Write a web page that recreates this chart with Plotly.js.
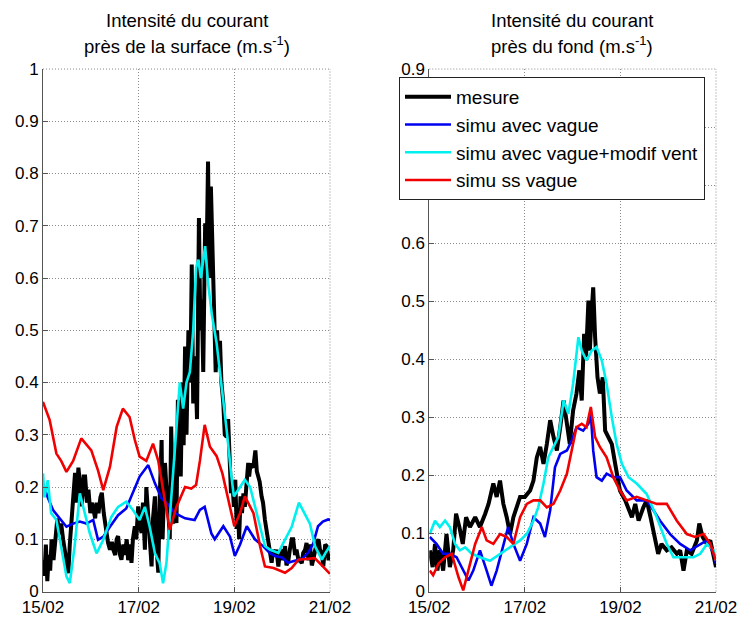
<!DOCTYPE html>
<html>
<head>
<meta charset="utf-8">
<script src="https://cdn.plot.ly/plotly-3.0.1.min.js"></script>
<style>html,body{margin:0;padding:0;background:#fff;}#chart{width:738px;height:622px;}</style>
</head>
<body>
<div id="chart"></div>
<script>
// x values are days after 15/02
const xTickVals = [0, 2, 4, 6];
const xTickText = ['15/02', '17/02', '19/02', '21/02'];
const seriesNames = ['mesure', 'simu avec vague', 'simu avec vague+modif vent', 'simu ss vague'];

// ---- Surface (left panel) ----
const surfMesureT = [0.00,0.03,0.06,0.09,0.12,0.15,0.18,0.22,0.26,0.30,0.34,0.38,0.42,0.46,0.50,0.53,0.56,0.60,0.64,0.67,0.70,0.74,0.78,0.81,0.85,0.88,0.92,0.95,0.99,1.02,1.05,1.09,1.12,1.16,1.20,1.23,1.27,1.30,1.33,1.36,1.40,1.44,1.47,1.51,1.54,1.57,1.61,1.64,1.68,1.71,1.75,1.78,1.82,1.85,1.88,1.92,1.95,1.99,2.02,2.06,2.09,2.13,2.16,2.20,2.23,2.27,2.30,2.34,2.37,2.41,2.44,2.48,2.50,2.55,2.58,2.62,2.65,2.68,2.72,2.75,2.79,2.82,2.86,2.88,2.91,2.94,2.97,3.00,3.04,3.08,3.11,3.14,3.18,3.22,3.26,3.29,3.32,3.35,3.39,3.42,3.45,3.48,3.51,3.55,3.58,3.61,3.64,3.67,3.70,3.73,3.77,3.80,3.84,3.87,3.90,3.93,3.96,3.99,4.02,4.05,4.08,4.10,4.13,4.16,4.19,4.22,4.25,4.29,4.31,4.34,4.37,4.40,4.44,4.47,4.50,4.53,4.57,4.60,4.64,4.67,4.71,4.74,4.78,4.81,4.85,4.88,4.92,4.95,4.99,5.02,5.06,5.09,5.13,5.16,5.20,5.23,5.27,5.30,5.34,5.37,5.41,5.44,5.48,5.51,5.55,5.58,5.62,5.65,5.69,5.72,5.76,5.79,5.83,5.86,5.90,5.93,5.97,6.00];
const surfMesureV = [0.06,0.03,0.09,0.02,0.07,0.04,0.10,0.06,0.10,0.14,0.11,0.13,0.10,0.08,0.05,0.035,0.09,0.15,0.20,0.227,0.17,0.237,0.20,0.163,0.22,0.22,0.17,0.195,0.15,0.17,0.16,0.14,0.17,0.15,0.18,0.189,0.15,0.131,0.10,0.093,0.08,0.095,0.08,0.07,0.10,0.106,0.07,0.061,0.09,0.07,0.10,0.06,0.09,0.055,0.10,0.125,0.10,0.163,0.13,0.112,0.17,0.08,0.20,0.138,0.10,0.048,0.14,0.182,0.09,0.036,0.18,0.29,0.10,0.246,0.20,0.157,0.10,0.316,0.13,0.25,0.131,0.367,0.30,0.22,0.40,0.28,0.469,0.30,0.50,0.40,0.626,0.36,0.45,0.33,0.715,0.50,0.559,0.42,0.705,0.635,0.823,0.60,0.775,0.59,0.527,0.42,0.50,0.43,0.48,0.40,0.36,0.30,0.296,0.33,0.25,0.188,0.21,0.162,0.214,0.12,0.15,0.10,0.182,0.15,0.188,0.162,0.20,0.246,0.22,0.245,0.239,0.24,0.27,0.23,0.22,0.21,0.182,0.17,0.137,0.12,0.093,0.08,0.055,0.08,0.068,0.08,0.048,0.074,0.08,0.06,0.087,0.05,0.06,0.08,0.10,0.10,0.07,0.08,0.06,0.061,0.054,0.074,0.08,0.093,0.06,0.09,0.05,0.061,0.08,0.092,0.10,0.08,0.074,0.048,0.09,0.087,0.06,0.073,0.074,0.086];

const surfVagueT = [0.00,0.10,0.21,0.35,0.49,0.63,0.77,0.91,1.05,1.15,1.26,1.40,1.57,1.74,1.88,2.02,2.20,2.34,2.48,2.62,2.76,2.97,3.17,3.28,3.38,3.52,3.59,3.77,3.91,4.01,4.12,4.26,4.43,4.61,4.75,4.85,5.00,5.12,5.30,5.40,5.55,5.65,5.75,5.85,5.96,6.00];
const surfVagueV = [0.207,0.18,0.156,0.14,0.124,0.13,0.134,0.13,0.137,0.099,0.105,0.124,0.146,0.159,0.188,0.22,0.242,0.207,0.178,0.166,0.15,0.14,0.137,0.156,0.162,0.111,0.10,0.125,0.105,0.068,0.09,0.125,0.10,0.086,0.073,0.068,0.065,0.055,0.06,0.061,0.075,0.092,0.125,0.134,0.138,0.137];

const surfVentT = [0.00,0.03,0.10,0.17,0.28,0.38,0.49,0.56,0.66,0.77,0.87,0.98,1.12,1.26,1.43,1.57,1.74,1.88,2.02,2.13,2.23,2.34,2.44,2.51,2.58,2.69,2.79,2.86,2.93,3.00,3.07,3.14,3.20,3.25,3.30,3.35,3.39,3.45,3.53,3.63,3.73,3.84,3.94,3.99,4.12,4.22,4.33,4.47,4.64,4.75,4.92,5.02,5.20,5.35,5.47,5.58,5.69,5.83,5.90,6.00];
const surfVentV = [0.226,0.18,0.213,0.15,0.137,0.086,0.029,0.016,0.086,0.188,0.15,0.111,0.073,0.099,0.143,0.162,0.172,0.156,0.137,0.162,0.124,0.073,0.054,0.016,0.054,0.188,0.309,0.40,0.35,0.40,0.42,0.50,0.62,0.635,0.60,0.64,0.661,0.591,0.53,0.475,0.40,0.309,0.22,0.182,0.20,0.214,0.20,0.15,0.087,0.08,0.074,0.092,0.124,0.17,0.15,0.13,0.086,0.061,0.073,0.087];

const surfSsT = [0.00,0.14,0.28,0.38,0.49,0.63,0.80,1.01,1.15,1.26,1.40,1.54,1.67,1.81,1.92,2.02,2.16,2.30,2.41,2.55,2.65,2.79,2.97,3.10,3.20,3.28,3.38,3.49,3.63,3.75,3.91,4.00,4.12,4.22,4.40,4.54,4.64,4.82,5.06,5.20,5.34,5.50,5.68,5.82,5.97,6.00];
const surfSsV = [0.363,0.328,0.264,0.25,0.229,0.25,0.293,0.27,0.232,0.194,0.239,0.315,0.35,0.334,0.29,0.258,0.25,0.283,0.25,0.169,0.118,0.162,0.20,0.197,0.204,0.25,0.319,0.277,0.259,0.226,0.162,0.125,0.15,0.182,0.15,0.086,0.048,0.045,0.036,0.045,0.061,0.062,0.064,0.051,0.036,0.034];

// ---- Fond (right panel) ----
const fondMesureT = [0.01,0.07,0.12,0.17,0.22,0.29,0.36,0.43,0.50,0.56,0.63,0.70,0.77,0.85,0.96,1.06,1.17,1.24,1.34,1.41,1.48,1.55,1.62,1.69,1.76,1.83,1.90,2.00,2.11,2.18,2.25,2.32,2.39,2.46,2.53,2.60,2.67,2.74,2.81,2.88,2.94,3.01,3.08,3.14,3.19,3.24,3.28,3.33,3.36,3.40,3.43,3.47,3.52,3.57,3.63,3.68,3.75,3.82,3.89,3.99,4.10,4.17,4.24,4.31,4.38,4.48,4.55,4.63,4.72,4.79,4.86,4.97,5.07,5.18,5.25,5.32,5.39,5.49,5.60,5.65,5.72,5.81,5.88,5.95,6.00];
const fondMesureV = [0.071,0.042,0.082,0.036,0.071,0.036,0.099,0.042,0.071,0.134,0.111,0.082,0.128,0.111,0.128,0.111,0.134,0.151,0.186,0.163,0.191,0.151,0.128,0.099,0.128,0.145,0.163,0.163,0.174,0.191,0.231,0.249,0.22,0.254,0.295,0.266,0.243,0.283,0.329,0.289,0.254,0.312,0.341,0.381,0.329,0.444,0.404,0.501,0.415,0.484,0.524,0.438,0.369,0.341,0.369,0.277,0.266,0.254,0.22,0.174,0.157,0.14,0.128,0.151,0.122,0.145,0.157,0.128,0.094,0.065,0.082,0.071,0.076,0.065,0.071,0.036,0.071,0.065,0.088,0.117,0.094,0.082,0.088,0.065,0.042];

const fondVagueT = [0.01,0.15,0.29,0.43,0.57,0.71,0.82,0.92,1.06,1.20,1.30,1.41,1.55,1.65,1.76,1.90,2.04,2.18,2.32,2.42,2.53,2.63,2.74,2.88,2.98,3.08,3.22,3.33,3.38,3.43,3.50,3.61,3.71,3.85,3.99,4.13,4.34,4.55,4.69,4.83,5.04,5.25,5.46,5.67,5.81,5.95,6.00];
const fondVagueV = [0.094,0.082,0.065,0.065,0.059,0.036,0.019,0.036,0.071,0.036,0.010,0.036,0.082,0.111,0.082,0.053,0.082,0.128,0.117,0.094,0.14,0.214,0.237,0.243,0.26,0.283,0.277,0.289,0.306,0.243,0.197,0.191,0.203,0.197,0.197,0.174,0.157,0.157,0.14,0.122,0.099,0.082,0.071,0.082,0.088,0.065,0.048];

const fondVentT = [0.01,0.12,0.22,0.33,0.43,0.54,0.64,0.75,0.89,1.06,1.27,1.48,1.69,1.90,2.04,2.18,2.28,2.39,2.49,2.60,2.70,2.81,2.91,3.01,3.12,3.19,3.29,3.40,3.50,3.61,3.71,3.82,3.92,4.03,4.17,4.34,4.55,4.76,4.97,5.11,5.32,5.53,5.67,5.81,5.95,6.00];
const fondVentV = [0.099,0.122,0.111,0.122,0.111,0.082,0.071,0.076,0.065,0.059,0.053,0.065,0.076,0.088,0.099,0.122,0.145,0.186,0.231,0.249,0.266,0.329,0.306,0.358,0.438,0.415,0.398,0.415,0.421,0.398,0.358,0.30,0.254,0.22,0.197,0.186,0.168,0.128,0.082,0.059,0.059,0.059,0.065,0.082,0.071,0.053];

const fondSsT = [0.01,0.08,0.19,0.33,0.47,0.61,0.71,0.82,0.96,1.10,1.20,1.34,1.48,1.62,1.76,1.90,2.04,2.18,2.32,2.46,2.60,2.74,2.88,2.98,3.08,3.19,3.29,3.38,3.47,3.57,3.71,3.85,3.99,4.13,4.34,4.55,4.76,4.97,5.18,5.39,5.56,5.74,5.88,6.00];
const fondSsV = [0.036,0.028,0.048,0.059,0.065,0.025,0.002,0.036,0.082,0.111,0.088,0.082,0.099,0.094,0.082,0.128,0.151,0.157,0.157,0.145,0.151,0.174,0.203,0.243,0.283,0.289,0.283,0.318,0.266,0.249,0.231,0.197,0.174,0.157,0.163,0.157,0.151,0.151,0.122,0.099,0.094,0.099,0.082,0.053];

const colors = ['#000000', '#0000f0', '#00f0f0', '#f00000'];
const widths = [4, 2.6, 2.6, 2.6];

function mk(t, v, i, xa, ya, show) {
  return {x: t, y: v, type: 'scatter', mode: 'lines', name: seriesNames[i],
    legendgroup: 'g' + i, showlegend: show, xaxis: xa, yaxis: ya,
    line: {color: colors[i], width: widths[i], shape: 'linear'}, hoverinfo: 'skip'};
}

const data = [
  mk(surfMesureT, surfMesureV, 0, 'x', 'y', false),
  mk(surfVagueT, surfVagueV, 1, 'x', 'y', false),
  mk(surfVentT, surfVentV, 2, 'x', 'y', false),
  mk(surfSsT, surfSsV, 3, 'x', 'y', false),
  mk(fondMesureT, fondMesureV, 0, 'x2', 'y2', true),
  mk(fondVagueT, fondVagueV, 1, 'x2', 'y2', true),
  mk(fondVentT, fondVentV, 2, 'x2', 'y2', true),
  mk(fondSsT, fondSsV, 3, 'x2', 'y2', true)
];

const FONT = 'Liberation Sans, Arial, sans-serif';
const tickFont = {family: FONT, size: 17, color: '#000'};
const GRID = '#8c8c8c';
const GDASH = '1px,2px';
function xa(anchor, dom) {
  return {domain: dom, anchor: anchor, range: [0, 6], tickvals: xTickVals, ticktext: xTickText,
    showgrid: true, gridcolor: GRID, griddash: GDASH, gridwidth: 1,
    showline: true, linecolor: '#555', linewidth: 1, mirror: false,
    ticks: 'inside', ticklen: 5, tickcolor: '#555', tickfont: tickFont, zeroline: false, fixedrange: true};
}
function ya(anchor, max, tv) {
  return {domain: [0.049, 0.889], anchor: anchor, range: [0, max], tickvals: tv,
    showgrid: true, gridcolor: GRID, griddash: GDASH, gridwidth: 1,
    showline: true, linecolor: '#555', linewidth: 1, mirror: false,
    ticks: 'inside', ticklen: 5, tickcolor: '#555', tickfont: tickFont, zeroline: false, fixedrange: true};
}
const yTicksSurf = [0,0.1,0.2,0.3,0.4,0.5,0.6,0.7,0.8,0.9,1];
const yTicksFond = [0,0.1,0.2,0.3,0.4,0.5,0.6,0.7,0.8,0.9];

// dotted frame on top and right edges (grid at the range ends)
function edge(xr, yr) {
  return [
    {type: 'line', xref: xr + ' domain', yref: yr + ' domain', x0: 0, x1: 1, y0: 1, y1: 1, line: {color: GRID, width: 1, dash: GDASH}, layer: 'below'},
    {type: 'line', xref: xr + ' domain', yref: yr + ' domain', x0: 1, x1: 1, y0: 0, y1: 1, line: {color: GRID, width: 1, dash: GDASH}, layer: 'below'}
  ];
}

const titleFont = {family: FONT, size: 18.5, color: '#000'};
const layout = {
  width: 738, height: 622,
  margin: {l: 0, r: 0, t: 0, b: 0},
  paper_bgcolor: '#fff', plot_bgcolor: '#fff',
  showlegend: true,
  legend: {x: 399/738, y: 1 - 77/622, xanchor: 'left', yanchor: 'top',
    bgcolor: '#fff', bordercolor: '#222', borderwidth: 1,
    font: {family: FONT, size: 19, color: '#000'}, itemwidth: 46, tracegroupgap: 0},
  xaxis: xa('y', [43/738, 330/738]),
  yaxis: ya('x', 1, yTicksSurf),
  xaxis2: xa('y2', [429.3/738, 716/738]),
  yaxis2: ya('x2', 0.9, yTicksFond),
  shapes: edge('x', 'y').concat(edge('x2', 'y2')),
  annotations: [
    {text: 'Intensité du courant', xref: 'paper', yref: 'paper', x: 187/738, y: 1 - 21/622, xanchor: 'center', yanchor: 'middle', showarrow: false, font: titleFont},
    {text: 'près de la surface (m.s<sup>-1</sup>)', xref: 'paper', yref: 'paper', x: 187/738, y: 1 - 45/622, xanchor: 'center', yanchor: 'middle', showarrow: false, font: titleFont},
    {text: 'Intensité du courant', xref: 'paper', yref: 'paper', x: 572/738, y: 1 - 21/622, xanchor: 'center', yanchor: 'middle', showarrow: false, font: titleFont},
    {text: 'près du fond (m.s<sup>-1</sup>)', xref: 'paper', yref: 'paper', x: 572/738, y: 1 - 45/622, xanchor: 'center', yanchor: 'middle', showarrow: false, font: titleFont}
  ]
};

Plotly.newPlot('chart', data, layout, {displayModeBar: false, staticPlot: true});
</script>
</body>
</html>
